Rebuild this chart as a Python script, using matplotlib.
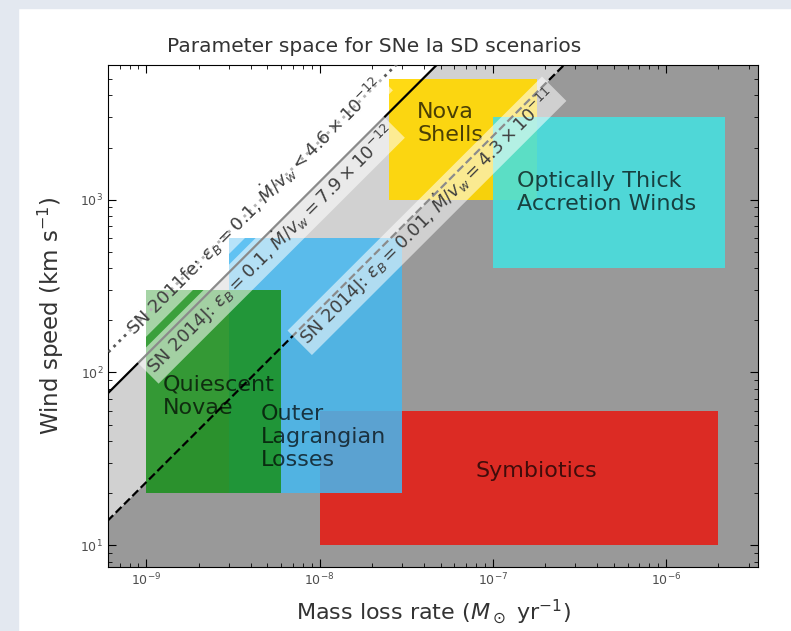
import numpy as np
import matplotlib
matplotlib.use("Agg")
import matplotlib.pyplot as plt
from matplotlib.patches import Rectangle

# Source classes in the (mass-loss rate, wind speed) plane
region_names = ["Symbiotics", "Outer\nLagrangian\nLosses", "Quiescent\nNovae",
                "Nova\nShells", "Optically Thick\nAccretion Winds"]
mdot_lo = [1e-8, 3e-9, 1e-9, 2.5e-8, 1e-7]
mdot_hi = [2e-6, 3e-8, 6e-9, 1.8e-7, 2.2e-6]
v_lo = [10, 20, 20, 1000, 400]
v_hi = [60, 600, 300, 5000, 3000]
region_colors = ["#e3221a", "#45b8f0", "#18901a", "gold", "#45e0e0"]
region_alpha = [0.92, 0.85, 0.85, 0.92, 0.88]

# where each class name is written
label_mdot = [1.78e-7, 4.6e-9, 1.24e-9, 3.66e-8, 1.38e-7]
label_v = [26.8, 42.3, 73, 2760, 1098]
label_ha = ["center", "left", "left", "left", "left"]

# radio limits on Mdot / v_w  (Msun/yr per km/s)
limit_names = ["SN 2011fe", "SN 2014J", "SN 2014J"]
limit_eps = ["0.1", "0.1", "0.01"]
limit_mantissa = [4.6, 7.9, 4.3]
limit_exponent = [-12, -12, -11]
limit_relation = ["<", "=", "="]
limit_styles = [":", "-", "--"]
limit_colors = ["0.35", "black", "black"]
# Mdot at which each limit label is centred, and its offset (points) from the line
limit_label_mdot = [4.2e-9, 4.6e-9, 3.8e-8]
limit_label_offset = [(-0.5, 0.5), (6.0, -6.0), (5.0, -5.0)]

xlim = (6e-10, 3.4e-6)
ylim = (7.5, 6000)

fig = plt.figure(figsize=(7.91, 6.31), dpi=100, facecolor="white")
# slide margin
fig.patches.append(Rectangle((0, 0), 18 / 791, 1, transform=fig.transFigure,
                             color="#e3e8f0", zorder=-10))
fig.patches.append(Rectangle((0, 1 - 8 / 631), 1, 8 / 631, transform=fig.transFigure,
                             color="#e3e8f0", zorder=-10))

ax = fig.add_axes([108 / 791, 1 - 567 / 631, 650 / 791, 502 / 631])
ax.set_xscale("log")
ax.set_yscale("log")
ax.set_xlim(*xlim)
ax.set_ylim(*ylim)

ratios = [m * 10.0 ** e for m, e in zip(limit_mantissa, limit_exponent)]
xx = np.logspace(np.log10(xlim[0]) - 1, np.log10(xlim[1]) + 1, 200)
solid_r, dashed_r = ratios[1], ratios[2]
ax.fill_between(xx, 1e-3, xx / dashed_r, color="0.6", lw=0, zorder=0)
ax.fill_between(xx, xx / dashed_r, xx / solid_r, color="0.82", lw=0, zorder=0)

for i in range(len(region_names)):
    ax.add_patch(Rectangle((mdot_lo[i], v_lo[i]), mdot_hi[i] - mdot_lo[i],
                           v_hi[i] - v_lo[i], facecolor=region_colors[i],
                           edgecolor="none", alpha=region_alpha[i], zorder=1 + i * 0.01))
    ax.text(label_mdot[i], label_v[i], region_names[i], ha=label_ha[i], va="center",
            fontsize=16, color="black", alpha=0.7, zorder=3)

for r, ls, c in zip(ratios, limit_styles, limit_colors):
    ax.plot(xx, xx / r, ls=ls, color=c, lw=1.6 if ls != ":" else 2.0, zorder=4)

# angle of a slope-one line in display space
p0 = ax.transData.transform((1e-9, 1e2))
p1 = ax.transData.transform((1e-8, 1e3))
angle = np.degrees(np.arctan2(p1[1] - p0[1], p1[0] - p0[0]))

for i, r in enumerate(ratios):
    txt = (f"{limit_names[i]}: $\\epsilon_B={limit_eps[i]}$, "
           f"$\\dot{{M}}/v_w {limit_relation[i]} {limit_mantissa[i]}\\times10^{{{limit_exponent[i]}}}$")
    m = limit_label_mdot[i]
    ax.annotate(txt, xy=(m, m / r), xytext=limit_label_offset[i], textcoords="offset points",
                rotation=angle, rotation_mode="anchor", ha="center", va="center",
                fontsize=13, color="0.25", zorder=5,
                bbox=dict(boxstyle="square,pad=0.2", fc="white", ec="none", alpha=0.55))

ax.tick_params(which="both", direction="in", top=True, right=True, labelsize=9,
               labelcolor="0.3")
ax.tick_params(which="major", length=6)
ax.tick_params(which="minor", length=3)
ax.set_xlabel(r"Mass loss rate ($M_\odot$ yr$^{-1}$)", fontsize=16, color="0.2",
              labelpad=6)
ax.set_ylabel(r"Wind speed (km s$^{-1}$)", fontsize=16.5, color="0.2", labelpad=10)
ax.set_title("Parameter space for SNe Ia SD scenarios", fontsize=14.5, color="0.2",
             x=0.41, pad=9)

fig.savefig("out.png", dpi=100, facecolor=fig.get_facecolor())
